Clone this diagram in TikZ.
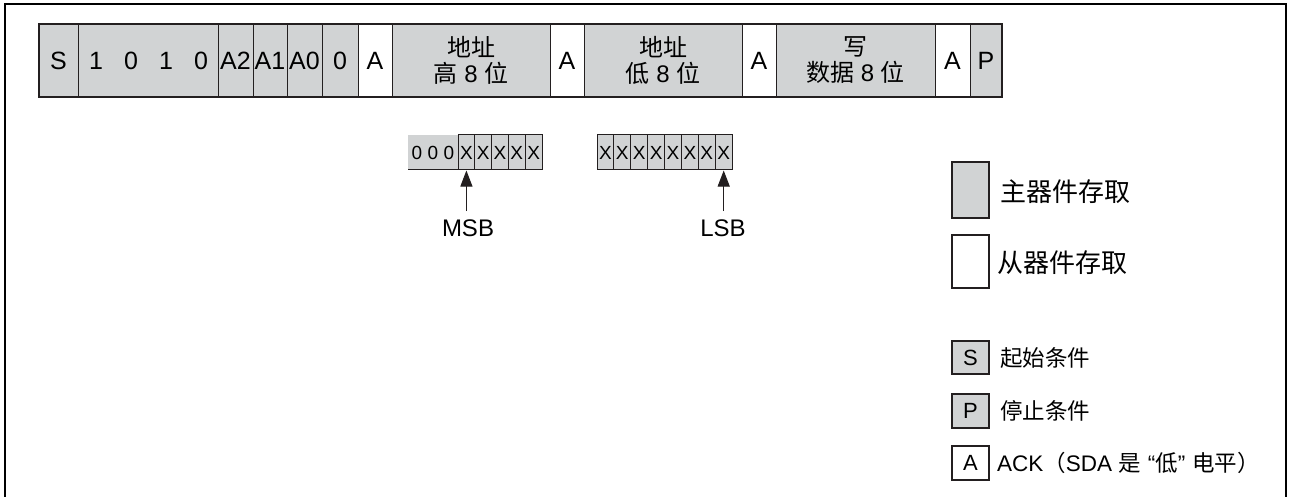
\documentclass[tikz,border=0pt]{standalone}
\usepackage{fontspec}
\setmainfont{Liberation Sans}
\newfontfamily\cjk{Noto Sans CJK SC}
\usetikzlibrary{arrows.meta}
\definecolor{fillg}{HTML}{D1D3D4}
\definecolor{lineg}{HTML}{231F20}
\begin{document}
\begin{tikzpicture}[x=1pt,y=-1pt,
  cell/.style={draw=lineg,line width=1pt,inner sep=0pt,minimum height=73pt},
  gcell/.style={cell,fill=fillg},
  wcell/.style={cell,fill=white},
  bartxt/.style={inner sep=0pt,font=\fontsize{25}{30}\selectfont},
  twotxt/.style={inner sep=0pt,align=center,font=\fontsize{24}{26}\selectfont},
  reg/.style={draw=lineg,line width=1pt,fill=fillg,inner sep=0pt,minimum width=16.8pt,minimum height=35pt,font=\fontsize{19}{22}\selectfont},
  regtxt/.style={inner sep=0pt,font=\fontsize{19}{22}\selectfont},
  lbl/.style={inner sep=0pt,font=\fontsize{24}{26}\selectfont},
  legbox/.style={draw=lineg,line width=2.2pt,inner sep=0pt,minimum width=37pt},
  legtxt/.style={inner sep=0pt,anchor=west,font=\fontsize{26}{28}\selectfont},
  legtxts/.style={inner sep=0pt,anchor=west,font=\fontsize{22.5}{24}\selectfont},
  arr/.style={draw=lineg,line width=1pt,-{Triangle[length=16pt,width=12pt]}}
]
\useasboundingbox (0,0) rectangle (1289,497);
% outer frame
\draw[line width=2.5pt] (5,497) -- (5,4) -- (1286,4) -- (1286,497);

% main bar cells
\node[gcell,minimum width=39pt] (cS) at (58.5,60.5) {};
\node[bartxt] (tS) at (cS) {S};
\node[gcell,minimum width=140pt] (cB) at (148,60.5) {};
\node[bartxt] (tB1) at (96,60.5) {1};
\node[bartxt] (tB2) at (131,60.5) {0};
\node[bartxt] (tB3) at (166,60.5) {1};
\node[bartxt] (tB4) at (201,60.5) {0};
\node[gcell,minimum width=35pt] (cA2) at (235.5,60.5) {};
\node[bartxt] at (cA2) {A2};
\node[gcell,minimum width=34pt] (cA1) at (270,60.5) {};
\node[bartxt] at (cA1) {A1};
\node[gcell,minimum width=35pt] (cA0) at (304.5,60.5) {};
\node[bartxt] at (cA0) {A0};
\node[gcell,minimum width=36pt] (cZ) at (340,60.5) {};
\node[bartxt] at (cZ) {0};
\node[wcell,minimum width=34pt] (ca1) at (375,60.5) {};
\node[bartxt] at (ca1) {A};
\node[gcell,minimum width=158pt] (chi) at (471,60.5) {};
\node[twotxt] at (chi) {{\cjk 地址}\\{\cjk 高} 8 {\cjk 位}};
\node[wcell,minimum width=34pt] (ca2) at (567,60.5) {};
\node[bartxt] at (ca2) {A};
\node[gcell,minimum width=158pt] (clo) at (663,60.5) {};
\node[twotxt] at (clo) {{\cjk 地址}\\{\cjk 低} 8 {\cjk 位}};
\node[wcell,minimum width=34pt] (ca3) at (759,60.5) {};
\node[bartxt] at (ca3) {A};
\node[gcell,minimum width=159pt] (cwr) at (855.5,60.5) {};
\node[twotxt] at (cwr) {{\cjk 写}\\{\cjk 数据} 8 {\cjk 位}};
\node[wcell,minimum width=35pt] (ca4) at (952.5,60.5) {};
\node[bartxt] at (ca4) {A};
\node[gcell,minimum width=32pt] (cP) at (986,60.5) {};
\node[bartxt] at (cP) {P};
\draw[draw=lineg,line width=2.5pt] (39,24) rectangle (1002,97);

% high address register
\fill[fillg] (408,135) rectangle (458,170);
\draw[draw=lineg,line width=1pt] (408,170) -- (458,170);
\node[regtxt] at (417,153) {0};
\node[regtxt] at (433,153) {0};
\node[regtxt] at (449,153) {0};
\foreach \i in {0,...,4} {
  \node[reg] (h\i) at ({466.4+16.8*\i},152.5) {X};
}
% low address register
\foreach \i in {0,...,7} {
  \node[reg] (l\i) at ({605.4+16.9*\i},152.5) {X};
}
% MSB / LSB
\node[lbl] (msb) at (468,228) {MSB};
\node[lbl] (lsb) at (723,228) {LSB};
\draw[arr] (h0.south |- 0,211) -- (h0.south);
\draw[arr] (l7.south |- 0,211) -- (l7.south);

% legend
\node[legbox,fill=fillg,minimum height=56pt] (lm) at (970.5,190) {};
\node[legtxt] (lmt) at (1000,192) {\cjk 主器件存取};
\node[legbox,fill=white,minimum height=53pt] (ls) at (970.5,261.5) {};
\node[legtxt] (lst) at (997,263) {\cjk 从器件存取};
\node[legbox,fill=fillg,minimum height=33pt,font=\fontsize{22}{24}\selectfont] (lS) at (970.5,357.5) {S};
\node[legtxts] (lSt) at (1000,358) {\cjk 起始条件};
\node[legbox,fill=fillg,minimum height=34pt,font=\fontsize{22}{24}\selectfont] (lP) at (970.5,411) {P};
\node[legtxts] (lPt) at (1000,411) {\cjk 停止条件};
\node[legbox,fill=white,minimum height=34pt,font=\fontsize{22}{24}\selectfont] (lA) at (970.5,463) {A};
\node[legtxts] (lAt) at (997,463) {ACK{\cjk （}SDA {\cjk 是}\hspace{7pt}“{\cjk 低}”\hspace{7pt}{\cjk 电平）}};
\end{tikzpicture}
\end{document}
